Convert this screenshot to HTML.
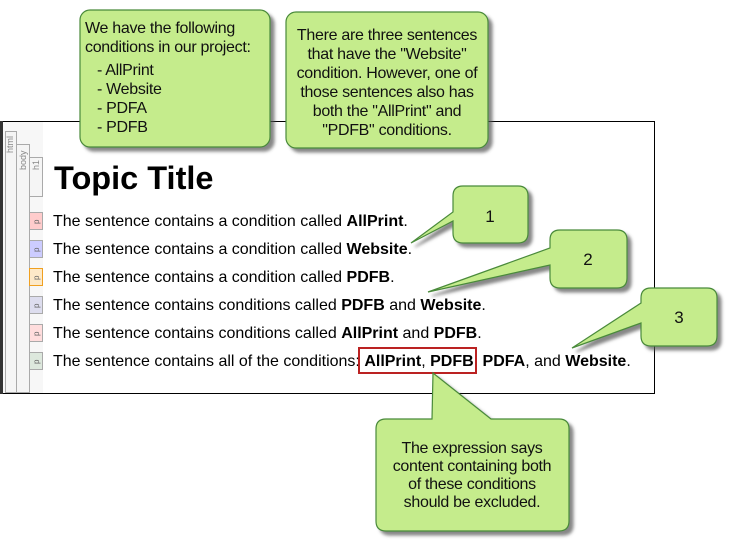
<!DOCTYPE html>
<html><head><meta charset="utf-8"><style>
body{margin:0;background:#fff;width:733px;height:544px;overflow:hidden}
svg{display:block}
text{font-family:"Liberation Sans",Arial,sans-serif}
</style></head><body>
<svg width="733" height="544" viewBox="0 0 733 544" xmlns="http://www.w3.org/2000/svg">
<defs>
<filter id="sh" x="-10%" y="-10%" width="130%" height="130%"><feDropShadow dx="4" dy="4" stdDeviation="1.5" flood-color="#555" flood-opacity="0.7"/></filter>
</defs>
<rect x="1.5" y="121.5" width="653" height="272" fill="#fff" stroke="#000" stroke-width="1"/>
<rect x="0" y="121" width="3" height="273" fill="#333"/>
<rect x="3" y="122" width="40" height="271" fill="#f7f7f7"/>
<rect x="5.5" y="131.5" width="11" height="261" fill="#f5f5f5" stroke="#aaa"/>
<rect x="16.5" y="144.5" width="13" height="248" fill="#f5f5f5" stroke="#aaa"/>
<rect x="29.5" y="157.5" width="13" height="39" fill="#f5f5f5" stroke="#aaa"/>
<text transform="translate(13,153) rotate(-90)" font-size="9" fill="#888">html</text>
<text transform="translate(26,170) rotate(-90)" font-size="9" fill="#888">body</text>
<text transform="translate(39,170) rotate(-90)" font-size="9" fill="#888">h1</text>
<rect x="29.5" y="212.5" width="13" height="17" fill="#fcc" stroke="#aaa"/>
<rect x="29.5" y="240.5" width="13" height="17" fill="#ccf" stroke="#aaa"/>
<rect x="29.5" y="268.5" width="13" height="17" fill="#fde9c8" stroke="#f0a020"/>
<rect x="29.5" y="296.5" width="13" height="17" fill="#dde" stroke="#aaa"/>
<rect x="29.5" y="324.5" width="13" height="17" fill="#fdd" stroke="#aaa"/>
<rect x="29.5" y="352.5" width="13" height="17" fill="#dde8dd" stroke="#aaa"/>
<g font-size="8" fill="#666">
<text transform="translate(39,224) rotate(-90)">p</text>
<text transform="translate(39,252) rotate(-90)">p</text>
<text transform="translate(39,280) rotate(-90)">p</text>
<text transform="translate(39,308) rotate(-90)">p</text>
<text transform="translate(39,336) rotate(-90)">p</text>
<text transform="translate(39,364) rotate(-90)">p</text>
</g>
<text x="54" y="189" font-size="32.5" font-weight="bold">Topic Title</text>
<g font-size="16" fill="#000">
<text x="53" y="226">The sentence contains a condition called <tspan font-weight="bold">AllPrint</tspan>.</text>
<text x="53" y="254">The sentence contains a condition called <tspan font-weight="bold">Website</tspan>.</text>
<text x="53" y="282">The sentence contains a condition called <tspan font-weight="bold">PDFB</tspan>.</text>
<text x="53" y="310">The sentence contains conditions called <tspan font-weight="bold">PDFB</tspan> and <tspan font-weight="bold">Website</tspan>.</text>
<text x="53" y="338">The sentence contains conditions called <tspan font-weight="bold">AllPrint</tspan> and <tspan font-weight="bold">PDFB</tspan>.</text>
<text x="53" y="366">The sentence contains all of the conditions: <tspan font-weight="bold">AllPrint</tspan>, <tspan font-weight="bold">PDFB</tspan>, <tspan font-weight="bold">PDFA</tspan>, and <tspan font-weight="bold">Website</tspan>.</text>
</g>
<rect x="359" y="348" width="117" height="25" fill="none" stroke="#b22" stroke-width="2"/>
<g fill="#c5ec8c" stroke="#4a8a3a" stroke-width="1.2" filter="url(#sh)">
<rect x="80" y="10" width="190" height="137" rx="10"/>
<rect x="286" y="12" width="202" height="136" rx="10"/>
<path d="M463,186 H518 Q528,186 528,196 V233 Q528,243 518,243 H463 Q453,243 453,233 V221 L411,243 L453,212 V196 Q453,186 463,186 Z"/>
<path d="M560,230 H617 Q627,230 627,240 V278 Q627,288 617,288 H560 Q550,288 550,278 V265 L428,292 L550,248 V240 Q550,230 560,230 Z"/>
<path d="M651,288 H707 Q717,288 717,298 V336 Q717,346 707,346 H651 Q641,346 641,336 V323 L572,348 L641,303 V298 Q641,288 651,288 Z"/>
<path d="M386,419 H432 L433,373 L491,419 H559 Q569,419 569,429 V521 Q569,531 559,531 H386 Q376,531 376,521 V429 Q376,419 386,419 Z"/>
</g>
<g font-size="16" fill="#111" letter-spacing="-0.3">
<text x="85" y="33">We have the following</text>
<text x="85" y="52">conditions in our project:</text>
<text x="97" y="75">- AllPrint</text>
<text x="97" y="94">- Website</text>
<text x="97" y="113">- PDFA</text>
<text x="97" y="132">- PDFB</text>
</g>
<g font-size="16" fill="#111" text-anchor="middle" letter-spacing="-0.3">
<text x="387" y="40">There are three sentences</text>
<text x="387" y="59">that have the "Website"</text>
<text x="387" y="78">condition. However, one of</text>
<text x="387" y="97">those sentences also has</text>
<text x="387" y="116">both the "AllPrint" and</text>
<text x="387" y="135">"PDFB" conditions.</text>
<text x="472" y="453">The expression says</text>
<text x="472" y="471">content containing both</text>
<text x="472" y="489">of these conditions</text>
<text x="472" y="507">should be excluded.</text>
</g>
<g font-size="17" fill="#111" text-anchor="middle">
<text x="490" y="222">1</text>
<text x="588" y="265">2</text>
<text x="679" y="323">3</text>
</g>
</svg>
</body></html>
